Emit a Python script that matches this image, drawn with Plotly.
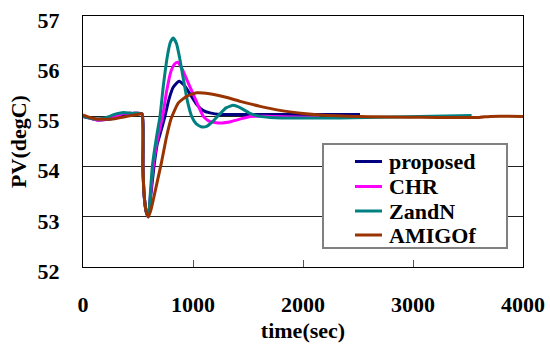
import plotly.graph_objects as go

# ---------------- data ----------------
series_names = ["proposed", "CHR", "ZandN", "AMIGOf"]
series_colors = ["#000080", "#FF00FF", "#008080", "#993300"]

proposed_t = [0, 60, 130, 250, 350, 450, 535, 545, 555, 575, 594, 615, 645, 675, 705, 745, 780, 820, 873,
              920, 980, 1033, 1090, 1155, 1250, 1400, 1800, 2518]
proposed_v = [55.0, 54.97, 54.93, 54.95, 55.03, 55.06, 55.05, 54.0, 53.45, 53.1, 53.0, 53.4, 54.0, 54.45, 54.68,
              55.0, 55.33, 55.58, 55.70, 55.62, 55.42, 55.24, 55.12, 55.07, 55.04, 55.04, 55.04, 55.04]

chr_t = [0, 60, 130, 250, 370, 450, 535, 545, 555, 575, 594, 612, 638, 665, 690, 724, 760, 800, 835, 861,
         900, 950, 1003, 1050, 1094, 1150, 1250, 1350, 1450, 1520, 1700, 2150]
chr_v = [55.0, 54.97, 54.93, 54.96, 55.06, 55.06, 55.05, 54.0, 53.45, 53.1, 53.0, 53.4, 54.0, 54.4, 54.68,
         55.0, 55.5, 55.9, 56.05, 56.08, 55.95, 55.7, 55.44, 55.2, 55.0, 54.9, 54.87, 54.9, 54.96, 55.0, 55.0, 54.98]

zandn_t = [0, 100, 200, 300, 370, 450, 535, 545, 555, 575, 594, 610, 630, 655, 675, 700, 730, 767, 795, 821,
           850, 880, 912, 950, 988, 1030, 1080, 1124, 1180, 1245, 1300, 1367, 1440, 1518, 1610, 1700, 1800,
           2000, 2336, 3533]
zandn_v = [55.0, 54.95, 54.97, 55.05, 55.08, 55.06, 55.05, 54.0, 53.45, 53.1, 53.0, 53.4, 54.0, 54.4, 54.68,
           55.0, 55.6, 56.2, 56.48, 56.56, 56.45, 56.15, 55.75, 55.3, 55.0, 54.85, 54.79, 54.8, 54.9, 55.05,
           55.17, 55.22, 55.16, 55.06, 55.0, 54.98, 54.97, 54.97, 54.97, 55.02]

amigof_t = [0, 60, 124, 273, 400, 518, 537, 545, 555, 575, 594, 615, 640, 680, 715, 760, 800, 867, 942, 1033,
            1150, 1300, 1430, 1610, 1790, 2000, 2155, 2518, 3600, 3700, 4000]
amigof_v = [55.03, 54.98, 54.95, 54.95, 55.0, 55.05, 55.05, 54.0, 53.45, 53.1, 53.0, 53.12, 53.35, 53.75, 54.1,
            54.6, 54.95, 55.27, 55.4, 55.47, 55.45, 55.38, 55.3, 55.2, 55.12, 55.06, 55.03, 55.0, 54.98, 55.0, 55.0]

x_ticks = [0, 1000, 2000, 3000, 4000]
y_ticks = [52, 53, 54, 55, 56, 57]

series_t = [proposed_t, chr_t, zandn_t, amigof_t]
series_v = [proposed_v, chr_v, zandn_v, amigof_v]

FONT = "Liberation Serif"

fig = go.Figure()
for name, color, t, v in zip(series_names, series_colors, series_t, series_v):
    fig.add_trace(go.Scatter(x=t, y=v, mode="lines", name=name,
                             line=dict(color=color, width=3, shape="spline", smoothing=0.5),
                             showlegend=False))

# legend drawn as a boxed key
L, R, B, T = 83, 523, 267, 16
W, H = R - L, B - T
def px(x):
    return (x - L) / W
def py(y):
    return (B - y) / H

shapes = [dict(type="rect", xref="paper", yref="paper", layer="above",
               x0=px(323), x1=px(507), y0=py(248), y1=py(144),
               fillcolor="white", line=dict(color="#808080", width=2))]
annotations = []
row_y = [161.5, 186.5, 211, 235]
for name, color, yy in zip(series_names, series_colors, row_y):
    shapes.append(dict(type="line", xref="paper", yref="paper", layer="above",
                       x0=px(355), x1=px(382), y0=py(yy), y1=py(yy),
                       line=dict(color=color, width=3)))
    annotations.append(dict(xref="paper", yref="paper", x=px(387), y=py(yy),
                            xanchor="left", yanchor="middle", showarrow=False,
                            text="<b>%s</b>" % name,
                            font=dict(family=FONT, size=22, color="black")))

fig.update_layout(
    width=550, height=349,
    margin=dict(l=L, r=550 - R, t=T, b=349 - B, pad=0, autoexpand=False),
    paper_bgcolor="white", plot_bgcolor="white",
    font=dict(family=FONT, size=22, color="black"),
    shapes=shapes, annotations=annotations,
    showlegend=False,
)
fig.update_xaxes(range=[0, 4000], tickvals=x_ticks,
                 ticktext=["<b>%d</b>" % v for v in x_ticks],
                 showgrid=False, zeroline=False, automargin=False,
                 showline=True, mirror=True, linecolor="black", linewidth=1,
                 ticks="inside", ticklen=7, tickcolor="#555", tickwidth=1,
                 ticklabelstandoff=18,
                 tickfont=dict(family=FONT, size=22, color="black"),
                 title=dict(text="<b>time(sec)</b>", font=dict(family=FONT, size=22, color="black"),
                            standoff=6))
fig.update_yaxes(range=[52, 57], tickvals=y_ticks,
                 ticktext=["<b>%d</b>" % v for v in y_ticks],
                 showgrid=True, gridcolor="#222", gridwidth=1, zeroline=False, automargin=False,
                 showline=True, mirror=True, linecolor="black", linewidth=1,
                 ticks="", ticklabelstandoff=18, ticklabelshift=4,
                 tickfont=dict(family=FONT, size=22, color="black"),
                 title=dict(text="<b>PV(degC)</b>", font=dict(family=FONT, size=22, color="black"),
                            standoff=4))

fig.write_html("out.html", config={"displayModeBar": False},
               post_script="document.body.style.margin='0';")
